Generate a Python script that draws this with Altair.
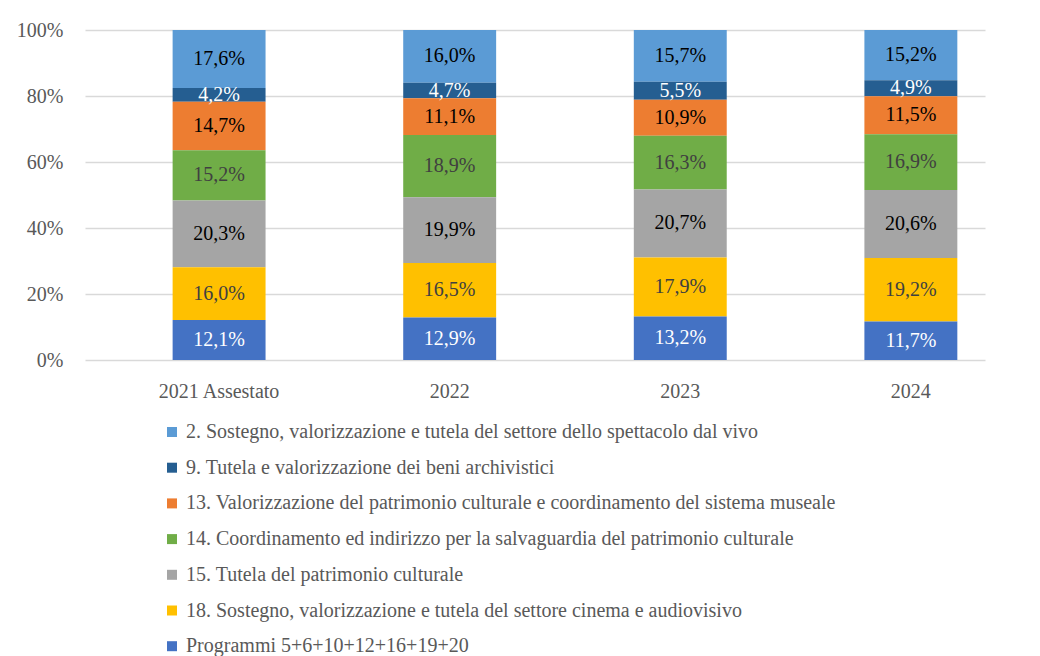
import altair as alt
import pandas as pd

years = ["2021 Assestato", "2022", "2023", "2024"]
series = [
    "2. Sostegno, valorizzazione e tutela del settore dello spettacolo dal vivo",
    "9. Tutela e valorizzazione dei beni archivistici",
    "13. Valorizzazione del patrimonio culturale e coordinamento del sistema museale",
    "14. Coordinamento ed indirizzo per la salvaguardia del patrimonio culturale",
    "15. Tutela del patrimonio culturale",
    "18. Sostegno, valorizzazione e tutela del settore cinema e audiovisivo",
    "Programmi 5+6+10+12+16+19+20",
]
colors = ["#5B9BD5", "#255E91", "#ED7D31", "#70AD47", "#A5A5A5", "#FFC000", "#4472C4"]
label_colors = ["#000000", "#FFFFFF", "#000000", "#404040", "#000000", "#404040", "#FFFFFF"]

v_2 = [17.6, 16.0, 15.7, 15.2]
v_9 = [4.2, 4.7, 5.5, 4.9]
v_13 = [14.7, 11.1, 10.9, 11.5]
v_14 = [15.2, 18.9, 16.3, 16.9]
v_15 = [20.3, 19.9, 20.7, 20.6]
v_18 = [16.0, 16.5, 17.9, 19.2]
v_prog = [12.1, 12.9, 13.2, 11.7]

all_vals = [v_2, v_9, v_13, v_14, v_15, v_18, v_prog]

rows = []
for si, (s, vals) in enumerate(zip(series, all_vals)):
    for yi, y in enumerate(years):
        v = vals[yi]
        rows.append({
            "year": y,
            "series": s,
            "value": v,
            "order": len(series) - 1 - si,
            "label": f"{v:.1f}".replace(".", ",") + "%",
            "lcolor": label_colors[si],
        })
df = pd.DataFrame(rows)

FONT = "Liberation Serif"
FS = 20

base = alt.Chart(df).transform_stack(
    stack="value",
    as_=["y0", "y1"],
    groupby=["year"],
    sort=[alt.SortField("order", order="ascending")],
    offset="normalize",
).transform_calculate(mid="(datum.y0 + datum.y1) / 2")

xenc = alt.X(
    "year:N",
    sort=years,
    title=None,
    scale=alt.Scale(paddingInner=0.597, paddingOuter=0.25, align=0.76),
    axis=alt.Axis(labelAngle=0, labelFont=FONT, labelFontSize=FS, labelColor="#595959",
                  domain=False, ticks=False, labelPadding=21, grid=False),
)

bars = base.mark_bar(stroke=None).encode(
    x=xenc,
    y=alt.Y("y0:Q", title=None, scale=alt.Scale(domain=[0, 1]),
            axis=alt.Axis(format=".0%", values=[0, 0.2, 0.4, 0.6, 0.8, 1.0],
                          labelFont=FONT, labelFontSize=FS, labelColor="#595959",
                          domain=False, ticks=False, gridColor="#D9D9D9",
                          gridWidth=1.5, labelPadding=22)),
    y2="y1:Q",
    color=alt.Color("series:N", scale=alt.Scale(domain=series, range=colors),
                    legend=alt.Legend(title=None, orient="none", legendX=77, legendY=392,
                                      direction="vertical", symbolType="square",
                                      symbolSize=100, symbolStrokeWidth=0, symbolOpacity=1,
                                      labelFont=FONT, labelFontSize=FS, labelColor="#595959",
                                      labelLimit=1000, rowPadding=15.7, labelOffset=4)),
)

texts = base.mark_text(font=FONT, fontSize=FS, baseline="middle", align="center").encode(
    x=alt.X("year:N", sort=years),
    y="mid:Q",
    text="label:N",
    color=alt.Color("lcolor:N", scale=None, legend=None),
)

chart = alt.layer(bars, texts).properties(
    width=900, height=330,
    autosize=alt.AutoSizeParams(type="none"),
    padding={"left": 77, "top": 22, "right": 40, "bottom": 300},
).configure(background="white").configure_view(strokeWidth=0, stroke=None)

chart.save("out.html", embed_options={"renderer": "svg", "actions": False})
